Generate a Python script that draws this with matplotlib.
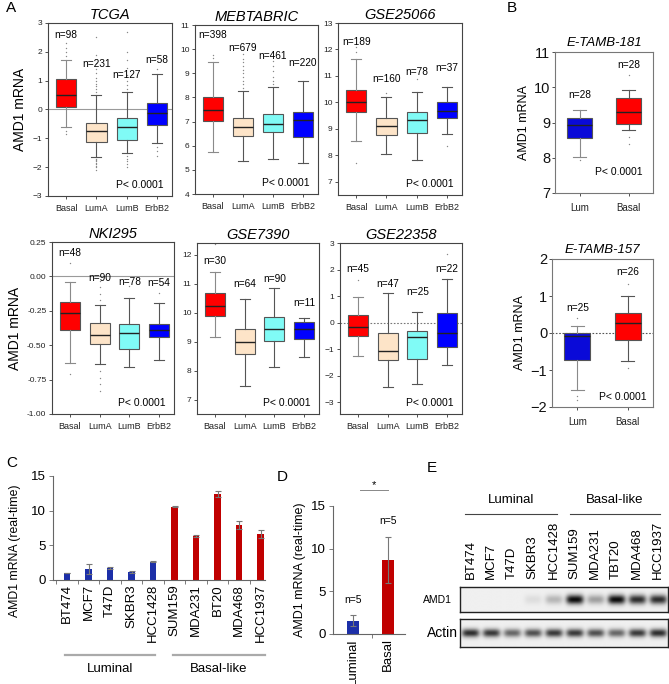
import matplotlib
matplotlib.use("Agg")
import matplotlib.pyplot as plt
import matplotlib.transforms as mtransforms
import numpy as np

plt.rcParams["font.family"] = ["Liberation Sans", "DejaVu Sans"]
plt.rcParams["axes.linewidth"] = 0.8

W, H = 669, 684

# ---------------- panel A: box stats ----------------
subtypes = ["Basal", "LumA", "LumB", "ErbB2"]
sub_colors = ["#ff0000", "#fde4c8", "#80fbf6", "#0000ff"]

tcga_lo = [-0.62, -1.64, -1.51, -1.17]
tcga_q1 = [0.09, -1.13, -1.06, -0.53]
tcga_med = [0.51, -0.74, -0.60, -0.13]
tcga_q3 = [1.06, -0.48, -0.28, 0.24]
tcga_hi = [1.70, 0.51, 0.60, 1.24]
tcga_fliers = [[1.85, 2.0, 2.15, 2.3, -0.75, -0.85],
               [0.6, 0.7, 0.8, 0.9, 1.0, 1.1, 1.25, 1.4, 1.6, 1.9, 2.5,
                -1.7, -1.75, -1.8, -1.85, -1.9, -1.95, -2.0, -2.1],
               [0.7, 0.85, 1.0, 1.2, 1.45, 1.7, 2.0, 2.7, -1.6, -1.7, -1.8, -1.9, -2.0],
               [1.4, -1.3, -1.45, -1.6]]
tcga_n = [98, 231, 127, 58]
tcga_ny = [2.57, 1.58, 1.20, 1.72]

meb_lo = [5.72, 5.37, 5.47, 5.30]
meb_q1 = [7.03, 6.41, 6.55, 6.36]
meb_med = [7.48, 6.78, 6.92, 7.05]
meb_q3 = [8.01, 7.15, 7.33, 7.40]
meb_hi = [9.45, 8.27, 8.42, 8.69]
meb_fliers = [[9.62, 9.75],
              [8.4, 8.55, 8.7, 8.85, 9.0, 9.15, 9.3, 9.45, 9.6, 9.78],
              [8.55, 8.7, 8.85, 9.1, 9.3, 9.5],
              []]
meb_n = [398, 679, 461, 220]
meb_ny = [10.59, 10.04, 9.70, 9.43]

g25_lo = [8.54, 8.05, 7.84, 8.79]
g25_q1 = [9.65, 8.78, 8.84, 9.41]
g25_med = [10.0, 9.09, 9.33, 9.69]
g25_q3 = [10.48, 9.40, 9.62, 10.0]
g25_hi = [11.65, 10.21, 10.38, 10.6]
g25_fliers = [[11.9, 12.1, 7.7], [10.35], [10.9], [8.35]]
g25_n = [189, 160, 78, 37]
g25_ny = [12.28, 10.88, 11.15, 11.31]

nki_lo = [-0.63, -0.64, -0.66, -0.61]
nki_q1 = [-0.39, -0.488, -0.524, -0.44]
nki_med = [-0.263, -0.424, -0.412, -0.388]
nki_q3 = [-0.185, -0.34, -0.344, -0.344]
nki_hi = [-0.04, -0.205, -0.16, -0.19]
nki_fliers = [[0.1, -0.71],
              [-0.03, -0.08, -0.13, -0.17, -0.69, -0.74, -0.78, -0.83],
              [-0.07], [-0.12]]
nki_n = [48, 90, 78, 54]
nki_ny = [0.17, -0.01, -0.04, -0.05]

g73_lo = [9.14, 7.48, 8.12, 8.47]
g73_q1 = [9.89, 8.58, 9.01, 9.10]
g73_med = [10.24, 8.99, 9.45, 9.45]
g73_q3 = [10.67, 9.42, 9.83, 9.68]
g73_hi = [11.39, 10.47, 10.85, 9.80]
g73_fliers = [[12.35], [], [], []]
g73_n = [30, 64, 90, 11]
g73_ny = [11.77, 10.97, 11.16, 10.32]

g22_lo = [-1.27, -2.43, -2.32, -1.59]
g22_q1 = [-0.50, -1.41, -1.39, -0.93]
g22_med = [-0.15, -1.07, -0.55, -0.40]
g22_q3 = [0.28, -0.38, -0.31, 0.36]
g22_hi = [0.98, 1.10, 0.39, 1.63]
g22_fliers = [[1.6], [], [], [2.6]]
g22_n = [45, 47, 25, 22]
g22_ny = [2.03, 1.47, 1.16, 2.03]

# ---------------- panel B ----------------
b_groups = ["Lum", "Basal"]
b_colors = ["#0a0ad8", "#ff0000"]

e181_lo = [8.03, 8.80]
e181_q1 = [8.57, 8.95]
e181_med = [8.92, 9.30]
e181_q3 = [9.14, 9.70]
e181_hi = [9.35, 9.92]
e181_fliers = [[7.95], [10.35, 8.6, 8.4]]
e181_n = [28, 28]
e181_ny = [9.77, 10.62]

e157_lo = [-1.53, -0.77]
e157_q1 = [-0.74, -0.19]
e157_med = [-0.09, 0.27]
e157_q3 = [0.0, 0.54]
e157_hi = [0.18, 1.0]
e157_fliers = [[0.4, -1.7, -1.8], [1.33, -0.95]]
e157_n = [25, 26]
e157_ny = [0.68, 1.66]

# ---------------- panel C / D ----------------
cell_lines = ["BT474", "MCF7", "T47D", "SKBR3", "HCC1428",
              "SUM159", "MDA231", "BT20", "MDA468", "HCC1937"]
qpcr_mean = [1.0, 1.6, 1.75, 1.2, 2.65, 10.55, 6.35, 12.4, 7.95, 6.6]
qpcr_err = [0.05, 0.7, 0.12, 0.15, 0.05, 0.08, 0.15, 0.4, 0.6, 0.6]
n_luminal = 5

d_groups = ["Luminal", "Basal"]
d_mean = [1.55, 8.7]
d_err = [0.65, 2.7]
d_n = [5, 5]

# ---------------- panel E (band intensities, 0..1) ----------------
blot_lanes = ["BT474", "MCF7", "T47D", "SKBR3", "HCC1428",
              "SUM159", "MDA231", "TBT20", "MDA468", "HCC1937"]
amd1_band = [0.0, 0.0, 0.0, 0.08, 0.25, 1.0, 0.35, 1.0, 0.85, 0.85]
actin_band = [0.85, 0.8, 0.6, 0.7, 0.8, 0.8, 0.7, 0.6, 0.8, 0.85]

BLUE = "#1c2fa8"
RED = "#c00000"


def rect(l, t, r, b):
    return [l / W, 1 - b / H, (r - l) / W, (b - t) / H]


def boxes(ax, lo, q1, med, q3, hi, fliers, colors, width):
    stats = [dict(whislo=a, q1=b, med=c, q3=d, whishi=e, fliers=f)
             for a, b, c, d, e, f in zip(lo, q1, med, q3, hi, fliers)]
    pos = np.arange(1, len(stats) + 1)
    art = ax.bxp(stats, positions=pos, widths=width, capwidths=width * 0.5,
                 patch_artist=True,
                 boxprops=dict(edgecolor="#555555", linewidth=0.8),
                 medianprops=dict(color="#222222", linewidth=1.0),
                 whiskerprops=dict(color="#555555", linewidth=0.8),
                 capprops=dict(color="#555555", linewidth=0.8),
                 flierprops=dict(marker="o", markersize=1.0,
                                 markerfacecolor="#888888", markeredgecolor="none"))
    for b, c in zip(art["boxes"], colors):
        b.set_facecolor(c)
    # basal whiskers are drawn lighter in the source
    for k in (0, 1):
        art["whiskers"][k].set_color("#8a8a8a")
        art["caps"][k].set_color("#8a8a8a")
    return pos


fig = plt.figure(figsize=(W / 100, H / 100), dpi=100)

a_panels = [
    ("TCGA", (48, 23, 172, 196), (-3, 3), np.arange(-3, 4), "solid",
     tcga_lo, tcga_q1, tcga_med, tcga_q3, tcga_hi, tcga_fliers, tcga_n, tcga_ny, True),
    ("MEBTABRIC", (195, 25, 318, 194), (4, 11), np.arange(4, 12), None,
     meb_lo, meb_q1, meb_med, meb_q3, meb_hi, meb_fliers, meb_n, meb_ny, False),
    ("GSE25066", (338, 23, 462, 195), (6.5, 13), np.arange(7, 14), None,
     g25_lo, g25_q1, g25_med, g25_q3, g25_hi, g25_fliers, g25_n, g25_ny, False),
    ("NKI295", (52, 242, 174, 414), (-1.0, 0.25), np.arange(-1.0, 0.26, 0.25), "solid",
     nki_lo, nki_q1, nki_med, nki_q3, nki_hi, nki_fliers, nki_n, nki_ny, True),
    ("GSE7390", (197, 243, 319, 414), (6.5, 12.4), np.arange(7, 13), None,
     g73_lo, g73_q1, g73_med, g73_q3, g73_hi, g73_fliers, g73_n, g73_ny, False),
    ("GSE22358", (340, 243, 462, 414), (-3.45, 3), np.arange(-3, 4), "dotted",
     g22_lo, g22_q1, g22_med, g22_q3, g22_hi, g22_fliers, g22_n, g22_ny, False),
]

for (title, r, ylim, yt, zero, lo, q1, med, q3, hi, fl, nn, ny, ylab) in a_panels:
    ax = fig.add_axes(rect(*r))
    if zero == "solid":
        ax.axhline(0, color="#9a9a9a", lw=0.8, zorder=0)
    elif zero == "dotted":
        ax.axhline(0, color="#777777", lw=0.8, ls=(0, (1.5, 1.5)), zorder=0)
    pos = boxes(ax, lo, q1, med, q3, hi, fl, sub_colors, 0.67)
    for p, n, y in zip(pos, nn, ny):
        ax.text(p, y, f"n={n}", ha="center", va="center", fontsize=7.3)
    ax.text(0.93, 0.065, "P< 0.0001", transform=ax.transAxes,
            ha="right", va="center", fontsize=7.5)
    ax.set_xlim(0.4, 4.5)
    ax.set_ylim(*ylim)
    ax.set_yticks(yt)
    if title == "NKI295":
        ax.set_yticklabels([f"{v:.2f}" for v in yt])
    ax.set_xticks(pos)
    ax.set_xticklabels(subtypes)
    ax.tick_params(axis="both", labelsize=6, length=2, width=0.6, pad=2,
                   colors="#333333", labelcolor="#222222")
    ax.tick_params(axis="x", labelsize=6.5, pad=4)
    for s in ax.spines.values():
        s.set_color("#444444")
    ax.set_title(title, fontsize=10.5, style="italic", pad=3)
    if ylab:
        ax.set_ylabel("AMD1 mRNA", fontsize=10, labelpad=4)

b_panels = [
    ("E-TAMB-181", (555, 52, 653, 193), (7, 11), np.arange(7, 12), None,
     e181_lo, e181_q1, e181_med, e181_q3, e181_hi, e181_fliers, e181_n, e181_ny, (0.89, 0.15)),
    ("E-TAMB-157", (552, 259, 653, 407), (-2, 2), np.arange(-2, 3), "dotted",
     e157_lo, e157_q1, e157_med, e157_q3, e157_hi, e157_fliers, e157_n, e157_ny, (0.94, 0.07)),
]
for (title, r, ylim, yt, zero, lo, q1, med, q3, hi, fl, nn, ny, ppos) in b_panels:
    ax = fig.add_axes(rect(*r))
    if zero == "dotted":
        ax.axhline(0, color="#555555", lw=0.8, ls=(0, (1.5, 1.5)), zorder=0)
    pos = boxes(ax, lo, q1, med, q3, hi, fl, b_colors, 0.51)
    for p, n, y in zip(pos, nn, ny):
        ax.text(p, y, f"n={n}", ha="center", va="center", fontsize=7.3)
    ax.text(ppos[0], ppos[1], "P< 0.0001", transform=ax.transAxes,
            ha="right", va="center", fontsize=7.5)
    ax.set_xlim(0.5, 2.5)
    ax.set_ylim(*ylim)
    ax.set_yticks(yt)
    ax.set_xticks(pos)
    ax.set_xticklabels(b_groups)
    ax.tick_params(axis="y", labelsize=10.5, length=2.5, width=0.6, pad=1, colors="#333333",
                   labelcolor="#111111")
    ax.tick_params(axis="x", labelsize=7, length=2, width=0.6, pad=5, colors="#333333",
                   labelcolor="#222222")
    for s in ax.spines.values():
        s.set_color("#777777")
    ax.set_title(title, fontsize=9.5, style="italic", pad=4)
    ax.set_ylabel("AMD1 mRNA", fontsize=9, labelpad=3)

# ---------------- C ----------------
axc = fig.add_axes(rect(53, 476, 265, 580))
xc = np.arange(len(cell_lines))
ccols = [BLUE] * n_luminal + [RED] * (len(cell_lines) - n_luminal)
axc.bar(xc, qpcr_mean, width=0.3, color=ccols, zorder=2)
axc.errorbar(xc, qpcr_mean, yerr=qpcr_err, fmt="none", ecolor="#777777",
             elinewidth=0.8, capsize=2.5, capthick=0.8, zorder=3)
axc.set_xlim(-0.66, 9.2)
axc.set_ylim(0, 15)
axc.set_yticks([0, 5, 10, 15])
axc.set_xticks(xc)
axc.set_xticklabels(cell_lines, rotation=90)
axc.set_xticks(np.arange(-0.5, 9.0, 1.0), minor=True)
axc.tick_params(axis="x", which="major", length=0, labelsize=9.5, pad=3)
axc.tick_params(axis="x", which="minor", length=3, width=0.6, color="#666666")
axc.tick_params(axis="y", labelsize=9.5, length=3, width=0.6, color="#666666", pad=2)
for s in ["top", "right"]:
    axc.spines[s].set_visible(False)
axc.spines["left"].set_color("#666666")
axc.spines["bottom"].set_color("#666666")
axc.set_ylabel("AMD1 mRNA (real-time)", fontsize=8.8, labelpad=5)
axc.yaxis.set_label_coords(-0.15, 0.28)
trc = mtransforms.blended_transform_factory(axc.transData, fig.transFigure)
for (x0, x1, lab) in [(-0.1, 4.1, "Luminal"), (4.9, 9.2, "Basal-like")]:
    axc.plot([x0, x1], [1 - 655 / H] * 2, color="#aaaaaa", lw=1.6,
             transform=trc, clip_on=False)
    axc.text((x0 + x1) / 2, 1 - 669 / H, lab, transform=trc, ha="center",
             va="center", fontsize=9.5)

# ---------------- D ----------------
axd = fig.add_axes(rect(333, 506, 405, 634))
xd = np.arange(len(d_groups))
axd.bar(xd, d_mean, width=0.34, color=[BLUE, RED], zorder=2)
axd.errorbar(xd, d_mean, yerr=d_err, fmt="none", ecolor="#777777",
             elinewidth=0.8, capsize=2.5, capthick=0.8, zorder=3)
for x, m, e, n in zip(xd, d_mean, d_err, d_n):
    axd.text(x, m + e + 1.8, f"n={n}", ha="center", va="center", fontsize=7.5)
axd.plot([0.2, 1.0], [16.9, 16.9], color="#888888", lw=0.7, clip_on=False)
axd.text(0.6, 17.5, "*", ha="center", va="center", fontsize=8)
axd.set_xlim(-0.57, 1.49)
axd.set_ylim(0, 15)
axd.set_yticks([0, 5, 10, 15])
axd.set_xticks(xd)
axd.set_xticklabels(d_groups, rotation=90)
axd.set_xticks([0.54], minor=True)
axd.tick_params(axis="x", which="major", length=0, labelsize=9.5, pad=3)
axd.tick_params(axis="x", which="minor", length=3, width=0.6, color="#666666")
axd.tick_params(axis="y", labelsize=9.5, length=3, width=0.6, color="#666666", pad=2)
for s in ["top", "right"]:
    axd.spines[s].set_visible(False)
axd.spines["left"].set_color("#666666")
axd.spines["bottom"].set_color("#666666")
axd.set_ylabel("AMD1 mRNA (real-time)", fontsize=9, labelpad=4)

# ---------------- E (western blot) ----------------
def blot_image(levels, half_h):
    xs = np.linspace(-0.5, 9.5, 420)
    ys = np.linspace(-1, 1, 60)
    img = np.full((len(ys), len(xs)), 0.94)
    for i, v in enumerate(levels):
        prof_x = np.exp(-((xs - i) / 0.42) ** 4)
        prof_y = np.exp(-(ys / half_h) ** 2)
        img -= 0.9 * v * np.outer(prof_y, prof_x)
    return np.clip(img, 0, 1)


axe1 = fig.add_axes(rect(460, 587, 668, 612))
axe1.imshow(blot_image(amd1_band, 0.38), cmap="gray", vmin=0, vmax=1,
            extent=(-0.5, 9.5, -1, 1), aspect="auto", interpolation="bilinear")
axe2 = fig.add_axes(rect(460, 619, 668, 647))
axe2.imshow(blot_image(actin_band, 0.3), cmap="gray", vmin=0, vmax=1,
            extent=(-0.5, 9.5, -1, 1), aspect="auto", interpolation="bilinear")
for a in (axe1, axe2):
    a.set_xticks([])
    a.set_yticks([])
    for s in a.spines.values():
        s.set_color("#222222")
        s.set_linewidth(1.0)
for i, lab in enumerate(blot_lanes):
    axe1.text(i, 1.32, lab, rotation=90, ha="center", va="bottom", fontsize=9.5,
              transform=mtransforms.blended_transform_factory(axe1.transData, axe1.transAxes))
fig.text(437 / W, 1 - 600 / H, "AMD1", ha="center", va="center", fontsize=7.5)
fig.text(442 / W, 1 - 633 / H, "Actin", ha="center", va="center", fontsize=10)
tre = mtransforms.blended_transform_factory(axe1.transData, fig.transFigure)
for (x0, x1, lab) in [(-0.26, 4.16, "Luminal"), (4.79, 9.1, "Basal-like")]:
    axe1.plot([x0, x1], [1 - 514 / H] * 2, color="#444444", lw=0.8,
              transform=tre, clip_on=False)
    axe1.text((x0 + x1) / 2, 1 - 506 / H, lab, transform=tre, ha="center",
              va="bottom", fontsize=9.5)

# panel letters
for lab, x, y in [("A", 6, 8), ("B", 507, 8), ("C", 6, 463), ("D", 277, 477), ("E", 427, 468)]:
    fig.text(x / W, 1 - y / H, lab, fontsize=11, ha="left", va="center")

fig.savefig("out.png", dpi=100)
